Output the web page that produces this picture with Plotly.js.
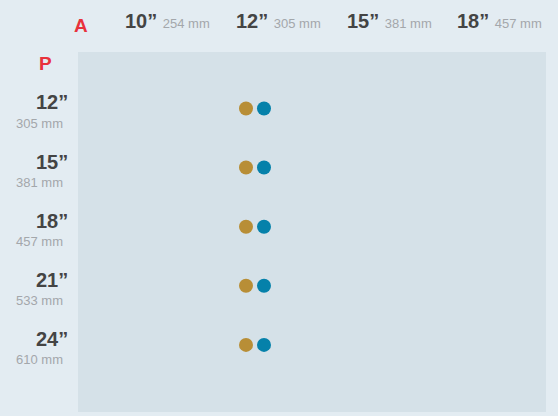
<!DOCTYPE html>
<html><head><meta charset="utf-8">
<script src="https://cdn.plot.ly/plotly-3.0.1.min.js"></script>
<style>html,body{margin:0;padding:0;background:#e3ecf2;}</style>
</head><body>
<div id="chart" style="width:558px;height:416px;"></div>
<script>
// Column (A) sizes
const aInches = ['10”', '12”', '15”', '18”'];
const aMm = ['254 mm', '305 mm', '381 mm', '457 mm'];
// Row (P) sizes
const pInches = ['12”', '15”', '18”', '21”', '24”'];
const pMm = ['305 mm', '381 mm', '457 mm', '533 mm', '610 mm'];
// Series: available combinations
const goldX = ['12”', '12”', '12”', '12”', '12”'];
const goldY = ['12”', '15”', '18”', '21”', '24”'];
const blueX = ['12”', '12”', '12”', '12”', '12”'];
const blueY = ['12”', '15”', '18”', '21”', '24”'];

const FONT = 'Liberation Sans, Arial, Helvetica, sans-serif';

const traces = [
  {type: 'scatter', mode: 'markers', x: goldX, y: goldY, name: 'gold',
   marker: {size: 14, color: '#b88e36'}, hoverinfo: 'skip'},
  {type: 'scatter', mode: 'markers', x: blueX, y: blueY, name: 'blue',
   marker: {size: 14, color: '#0581aa'}, hoverinfo: 'skip'}
];

const annotations = [];
aInches.forEach((t, i) => {
  annotations.push({
    xref: 'x', yref: 'paper', x: aInches[i], y: 1, xanchor: 'left', yanchor: 'middle',
    xshift: -21, yshift: 31, showarrow: false,
    text: '<b>' + t + '</b> <span style="font-size:13px;color:#a3a7ab">' + aMm[i] + '</span>',
    font: {family: FONT, size: 20, color: '#444444'}
  });
});
pInches.forEach((t, i) => {
  annotations.push({
    xref: 'paper', yref: 'y', x: 0, y: pInches[i], xanchor: 'right', yanchor: 'middle',
    xshift: -8, yshift: 6, showarrow: false,
    text: '<b>' + t + '</b>',
    font: {family: FONT, size: 20, color: '#444444'}
  });
  annotations.push({
    xref: 'paper', yref: 'y', x: 0, y: pInches[i], xanchor: 'right', yanchor: 'middle',
    xshift: -13, yshift: -15, showarrow: false,
    text: pMm[i],
    font: {family: FONT, size: 13, color: '#a3a7ab'}
  });
});
annotations.push({xref: 'paper', yref: 'paper', x: 0, y: 1, xanchor: 'center', yanchor: 'middle',
  xshift: 3, yshift: 27, showarrow: false, text: '<b>A</b>',
  font: {family: FONT, size: 19, color: '#e8323c'}});
annotations.push({xref: 'paper', yref: 'paper', x: 0, y: 1, xanchor: 'center', yanchor: 'middle',
  xshift: -33, yshift: -11, showarrow: false, text: '<b>P</b>',
  font: {family: FONT, size: 19, color: '#e8323c'}});

const layout = {
  width: 558, height: 416,
  margin: {l: 78, r: 12, t: 52, b: 4, pad: 0},
  paper_bgcolor: '#e3ecf2',
  plot_bgcolor: '#d5e1e8',
  showlegend: false,
  scattermode: 'group',
  scattergap: 0.675,
  xaxis: {type: 'category', categoryorder: 'array', categoryarray: aInches,
          range: [-0.599, 3.629], showticklabels: false, showgrid: false,
          zeroline: false, showline: false, ticks: '', fixedrange: true},
  yaxis: {type: 'category', categoryorder: 'array', categoryarray: pInches,
          range: [5.135, -0.955], showticklabels: false, showgrid: false,
          zeroline: false, showline: false, ticks: '', fixedrange: true},
  annotations: annotations,
  font: {family: FONT}
};

Plotly.newPlot('chart', traces, layout, {displayModeBar: false, staticPlot: true});
</script>
</body></html>
